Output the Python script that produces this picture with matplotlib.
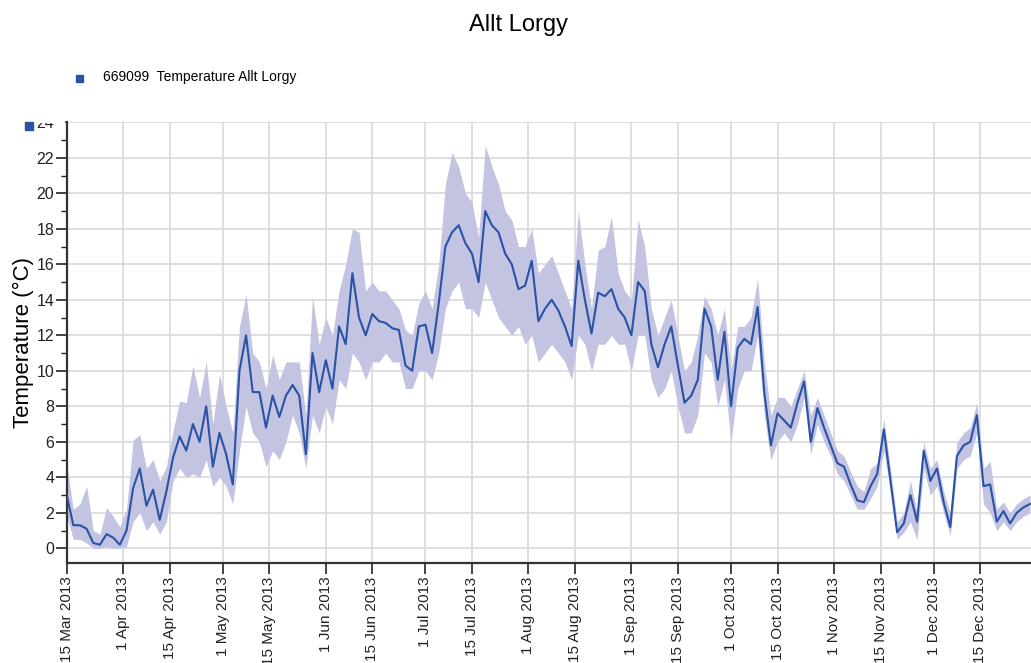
import numpy as np
import pandas as pd
import matplotlib
matplotlib.use("Agg")
import matplotlib.pyplot as plt
from matplotlib.patches import Rectangle

# ---- data (2-day samples starting 15 Mar 2013) ----
start_date = "2013-03-15"
sample_step_days = 2
temp_mean = [
    3.0, 1.3, 1.3, 1.1, 0.3, 0.2, 0.8, 0.6, 0.2, 1.0,
    3.4, 4.5, 2.4, 3.3, 1.6, 3.2, 5.1, 6.3, 5.5, 7.0,
    6.0, 8.0, 4.6, 6.5, 5.3, 3.6, 10.0, 12.0, 8.8, 8.8,
    6.8, 8.6, 7.4, 8.6, 9.2, 8.6, 5.3, 11.0, 8.8, 10.6,
    9.0, 12.5, 11.5, 15.5, 13.0, 12.0, 13.2, 12.8, 12.7, 12.4,
    12.3, 10.3, 10.0, 12.5, 12.6, 11.0, 13.8, 17.0, 17.8, 18.2,
    17.2, 16.6, 15.0, 19.0, 18.2, 17.8, 16.6, 16.0, 14.6, 14.8,
    16.2, 12.8, 13.5, 14.0, 13.4, 12.5, 11.4, 16.2, 14.0, 12.1,
    14.4, 14.2, 14.6, 13.5, 13.0, 12.0, 15.0, 14.5, 11.5, 10.2,
    11.5, 12.5, 10.3, 8.2, 8.6, 9.5, 13.5, 12.5, 9.5, 12.2,
    8.0, 11.3, 11.8, 11.5, 13.6, 8.8, 5.8, 7.6, 7.2, 6.8,
    8.2, 9.4, 6.0, 7.9, 6.8, 5.8, 4.8, 4.6, 3.6, 2.7,
    2.6, 3.5, 4.2, 6.7, 3.8, 0.9, 1.4, 3.0, 1.5, 5.5,
    3.8, 4.5, 2.6, 1.2, 5.2, 5.8, 6.0, 7.5, 3.5, 3.6,
    1.5, 2.1, 1.4, 2.0, 2.3, 2.5,
]
temp_low = [
    1.8, 0.5, 0.5, 0.3, 0.0, 0.0, 0.1, 0.0, 0.0, 0.1,
    1.5, 2.0, 1.0, 1.5, 0.8, 1.5, 3.8, 4.5, 4.0, 4.2,
    4.0, 5.0, 3.5, 4.0, 3.5, 2.5, 5.5, 8.0, 6.5, 6.0,
    4.6, 5.5, 5.0, 6.0, 7.5, 6.5, 4.5, 7.5, 6.5, 8.0,
    7.0, 9.5, 9.0, 11.0, 10.5, 9.5, 10.5, 10.5, 11.0, 10.5,
    10.5, 9.0, 9.0, 10.0, 10.0, 9.5, 11.0, 13.5, 14.5, 15.0,
    13.5, 13.5, 13.0, 15.0, 14.0, 13.0, 12.5, 12.0, 12.5, 11.5,
    12.0, 10.5, 11.0, 11.5, 11.0, 10.5, 9.5, 12.0, 11.5, 10.0,
    11.5, 11.5, 12.0, 11.5, 11.5, 10.0, 12.0, 12.0, 9.5, 8.5,
    9.0, 10.0, 8.0, 6.5, 6.5, 7.5, 11.0, 10.5, 8.0, 9.5,
    6.0, 9.0, 10.0, 10.0, 12.0, 7.5, 5.0, 6.0, 6.5, 6.0,
    7.0, 8.5, 5.3, 7.0, 6.0, 5.2, 4.2, 3.8, 3.0, 2.2,
    2.2, 2.8, 3.5, 5.5, 3.2, 0.5, 0.9, 1.5, 0.5, 4.5,
    3.0, 3.5, 2.0, 0.7, 4.5, 5.0, 5.2, 6.5, 2.5, 2.0,
    1.0, 1.5, 1.0, 1.5, 1.8, 2.0,
]
temp_high = [
    4.7, 2.2, 2.5, 3.5, 1.0, 0.8, 2.3, 1.8, 1.2, 2.2,
    6.1, 6.4, 4.5, 5.0, 3.8, 4.6, 6.6, 8.3, 8.2, 10.3,
    8.5, 10.5, 7.0, 9.8, 8.0, 6.5, 12.5, 14.3, 11.0, 10.5,
    9.0, 10.9, 9.5, 10.5, 10.5, 10.5, 7.5, 14.2, 11.5, 13.0,
    12.0, 14.5, 16.0, 18.0, 17.8, 14.5, 15.0, 14.5, 14.5, 14.0,
    13.5, 12.3, 12.0, 13.8, 14.5, 13.5, 16.0, 20.5, 22.3, 21.5,
    20.0, 19.5, 17.5, 22.7, 21.5, 20.5, 19.0, 18.5, 17.0, 17.0,
    18.0, 15.5, 16.0, 16.5, 15.5, 14.5, 13.5, 19.0, 16.0, 13.5,
    16.8, 17.0, 18.7, 15.5, 14.5, 14.0, 18.5, 17.0, 13.5, 12.0,
    13.0, 14.0, 12.0, 10.0, 10.5, 12.0, 14.2, 13.5, 12.0, 13.5,
    10.0, 12.5, 12.5, 13.0, 15.2, 10.5, 7.5, 8.5, 8.5, 8.0,
    9.0, 10.0, 7.5, 8.5, 7.5, 6.5, 5.5, 5.2, 4.3, 3.5,
    3.2, 4.5, 4.8, 7.3, 4.5, 1.5, 2.0, 3.8, 2.0, 6.0,
    4.5, 5.0, 3.2, 2.0, 6.0, 6.5, 6.8, 8.2, 4.5, 4.9,
    2.2, 2.6, 2.0, 2.5, 2.8, 3.0,
]
tick_dates = ["2013-03-15", "2013-04-01", "2013-04-15", "2013-05-01", "2013-05-15",
              "2013-06-01", "2013-06-15", "2013-07-01", "2013-07-15", "2013-08-01",
              "2013-08-15", "2013-09-01", "2013-09-15", "2013-10-01", "2013-10-15",
              "2013-11-01", "2013-11-15", "2013-12-01", "2013-12-15"]
tick_labels = ["15 Mar 2013", "1 Apr 2013", "15 Apr 2013", "1 May 2013", "15 May 2013",
               "1 Jun 2013", "15 Jun 2013", "1 Jul 2013", "15 Jul 2013", "1 Aug 2013",
               "15 Aug 2013", "1 Sep 2013", "15 Sep 2013", "1 Oct 2013", "15 Oct 2013",
               "1 Nov 2013", "15 Nov 2013", "1 Dec 2013", "15 Dec 2013"]
title = "Allt Lorgy"
series_label = "669099  Temperature Allt Lorgy"
y_label = "Temperature (\u00b0C)"

# ---- style ----
plt.rcParams['font.family'] = ['Liberation Sans', 'DejaVu Sans']
line_color = "#2a52a5"
band_color = "#c3c3e2"
grid_color = "#dcdcdc"

dates = pd.date_range(start_date, periods=len(temp_mean), freq=f"{sample_step_days}D")

fig = plt.figure(figsize=(10.31, 6.63), dpi=100)
ax = fig.add_axes([0.0647, 0.1513, 0.9353, 0.6642])

ax.fill_between(dates, temp_low, temp_high, color=band_color, linewidth=0, zorder=2)
ax.plot(dates, temp_mean, color=line_color, linewidth=1.5, zorder=3)

x0 = pd.Timestamp(start_date)
ax.set_xlim(x0, x0 + pd.Timedelta(days=290.3))
ax.set_ylim(-0.81, 24)

ax.set_yticks(np.arange(0, 25, 2))
ax.set_yticks(np.arange(0, 25, 1), minor=True)
ax.set_xticks(pd.to_datetime(tick_dates))
ax.set_xticklabels(tick_labels, rotation=90, fontsize=11)
ax.tick_params(axis='y', which='major', length=8, width=1.2, labelsize=11.5, pad=1, colors='#222222')
ax.tick_params(axis='y', which='minor', length=4, width=1.0, colors='#222222')
ax.tick_params(axis='x', which='major', length=8, width=1.2, pad=2, colors='#222222')

ax.grid(True, which='major', color=grid_color, linewidth=1.3, zorder=0)
ax.set_axisbelow(True)
for s in ['top', 'right']:
    ax.spines[s].set_visible(False)
for s in ['left', 'bottom']:
    ax.spines[s].set_color('#333333')
    ax.spines[s].set_linewidth(1.6)

ax.set_ylabel(y_label, fontsize=16, labelpad=2)

fig.text(0.503, 0.962, title, ha='center', va='center', fontsize=17)
# legend
fig.add_artist(Rectangle((76 / 1031, 1 - 82 / 663), 7 / 1031, 7 / 663,
                         transform=fig.transFigure, color=line_color))
fig.text(103 / 1031, 1 - 77 / 663, series_label, ha='left', va='center', fontsize=10)
# white strip hiding the upper half of the top tick label, as in the reference
fig.add_artist(Rectangle((20 / 1031, 1 - 122 / 663), 44 / 1031, 10 / 663,
                         transform=fig.transFigure, color='white', zorder=9))
# small series marker at top of y axis
fig.add_artist(Rectangle((25 / 1031, 1 - 130 / 663), 8 / 1031, 8 / 663,
                         transform=fig.transFigure, color=line_color, zorder=10))

fig.savefig("out.png", dpi=100)
